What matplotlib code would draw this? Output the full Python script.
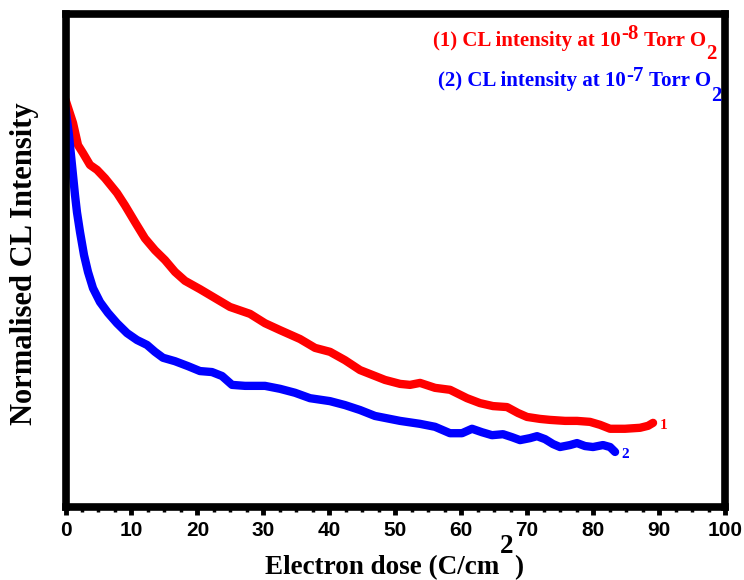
import matplotlib
matplotlib.use('Agg')
import matplotlib.pyplot as plt
from matplotlib.ticker import MultipleLocator
from matplotlib.transforms import IdentityTransform

# CL intensity decay, normalised (0 = bottom of frame, 1 = top)
dose_1 = [0.0, 1.14, 1.90, 2.65, 3.71, 4.78, 5.99, 7.81, 9.02, 10.54, 12.05, 13.57,
          15.09, 16.61, 18.12, 20.40, 22.67, 24.94, 27.98, 30.25, 32.53, 35.56,
          37.84, 40.11, 42.39, 44.66, 46.94, 48.45, 50.73, 52.24, 53.76, 56.03,
          58.31, 60.88, 62.85, 64.82, 66.95, 68.61, 69.98, 71.95, 73.47, 75.74,
          77.56, 79.53, 81.05, 82.57, 84.84, 87.12, 88.33, 89.09]
int_1 = [0.825, 0.778, 0.733, 0.717, 0.693, 0.683, 0.666, 0.636, 0.611, 0.577,
         0.544, 0.520, 0.500, 0.476, 0.458, 0.441, 0.423, 0.405, 0.391, 0.372,
         0.358, 0.340, 0.322, 0.314, 0.297, 0.277, 0.265, 0.257, 0.249, 0.247,
         0.251, 0.241, 0.237, 0.220, 0.210, 0.204, 0.202, 0.190, 0.182, 0.178,
         0.176, 0.174, 0.174, 0.172, 0.166, 0.158, 0.158, 0.160, 0.164, 0.170]

dose_2 = [0.0, 0.23, 0.53, 0.83, 1.14, 1.44, 1.74, 2.20, 2.81, 3.41, 4.17, 5.23,
          6.44, 7.81, 9.33, 10.84, 12.36, 13.57, 14.78, 16.60, 18.57, 20.39, 22.21,
          23.73, 25.25, 27.22, 30.25, 32.53, 34.80, 37.08, 40.11, 42.38, 44.66,
          46.93, 50.72, 53.75, 56.03, 58.30, 60.12, 61.64, 63.15, 64.67, 66.34,
          67.70, 68.92, 70.43, 71.50, 72.71, 73.92, 74.98, 76.50, 77.56, 78.77,
          79.99, 81.50, 82.57, 83.33]
int_2 = [0.808, 0.784, 0.753, 0.713, 0.672, 0.632, 0.597, 0.557, 0.510, 0.476,
         0.443, 0.415, 0.393, 0.372, 0.352, 0.338, 0.328, 0.314, 0.302, 0.295,
         0.285, 0.275, 0.273, 0.265, 0.247, 0.245, 0.245, 0.239, 0.231, 0.220,
         0.214, 0.206, 0.196, 0.184, 0.174, 0.168, 0.162, 0.149, 0.149, 0.158,
         0.151, 0.145, 0.147, 0.141, 0.135, 0.139, 0.143, 0.137, 0.127, 0.121,
         0.125, 0.129, 0.123, 0.121, 0.125, 0.121, 0.111]

RED = '#ff0000'
BLUE = '#0000ff'
serif = ['Liberation Serif', 'DejaVu Serif']

fig = plt.figure(figsize=(7.44, 5.8), dpi=100)
ax = fig.add_axes([0.08804, 0.12638, 0.88643, 0.85034])

ax.plot(dose_1, int_1, color=RED, lw=6, solid_capstyle='round', solid_joinstyle='round')
ax.plot(dose_2, int_2, color=BLUE, lw=6, solid_capstyle='round', solid_joinstyle='round')

ax.text(dose_1[-1] + 1.0, int_1[-1] - 0.005, '1', color=RED, fontsize=11,
        family=serif, fontweight='bold', va='center', ha='left')
ax.text(dose_2[-1] + 1.0, int_2[-1] - 0.005, '2', color=BLUE, fontsize=11,
        family=serif, fontweight='bold', va='center', ha='left')

ax.set_xlim(0, 100)
ax.set_ylim(0, 1)
ax.xaxis.set_major_locator(MultipleLocator(10))
ax.xaxis.set_minor_locator(MultipleLocator(2.5))
ax.set_yticks([])
ax.tick_params(axis='x', which='major', direction='out', length=6, width=3.5, pad=4)
ax.tick_params(axis='x', which='minor', direction='out', length=3.5, width=2.5)
for lab in ax.get_xticklabels():
    lab.set_family(['Liberation Sans', 'DejaVu Sans'])
    lab.set_fontweight('bold')
    lab.set_fontsize(15)
for s in ax.spines.values():
    s.set_linewidth(5.5)


def run_text(x, y, pieces, color, size):
    # lay out text pieces left to right in pixel coordinates (origin top-left);
    # each piece is (string, baseline shift up in px, gap before it in em)
    r = fig.canvas.get_renderer()
    px = size * 100 / 72.0
    for s, dy, gap in pieces:
        x += gap * px
        t = fig.text(x, 580 - y + dy, s, transform=IdentityTransform(),
                     color=color, fontsize=size, family=serif, fontweight='bold',
                     ha='left', va='baseline')
        x += t.get_window_extent(renderer=r).width


run_text(433, 46, [('(1) CL intensity at 10', 0, 0), ('-8', 7, 0.02),
                   ('Torr O', 0, 0.25), ('2', -13, 0.02)], RED, 15)
run_text(438, 86, [('(2) CL intensity at 10', 0, 0), ('-7', 5, 0.02),
                   ('Torr O', 0, 0.25), ('2', -15, 0.02)], BLUE, 15)

# axis titles
run_text(265, 574, [('Electron dose (C/cm', 0, 0), ('2', 21, 0.02), (')', 0, 0.02)],
         'black', 19.5)
fig.text(25 / 744, 1 - 264 / 580, 'Normalised CL Intensity', rotation=90,
         fontsize=22, family=serif, fontweight='bold', ha='center', va='center')

fig.savefig('out.png', dpi=100)
